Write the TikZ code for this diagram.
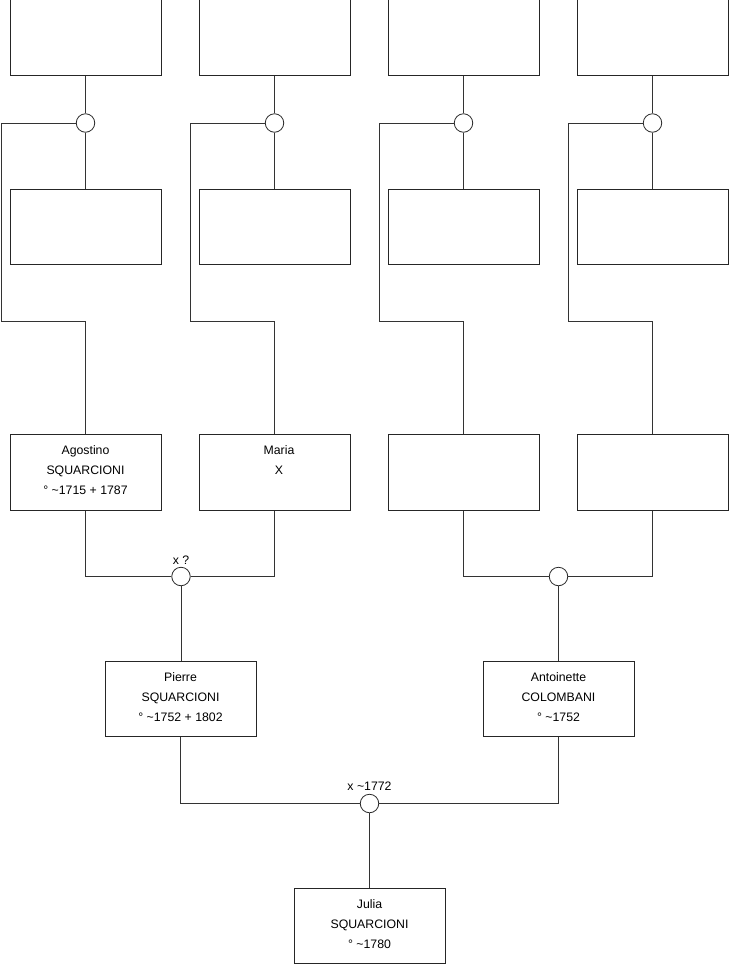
\documentclass[tikz,border=0pt]{standalone}
\usepackage{fontspec}
\setmainfont{Liberation Sans}
\begin{document}
\begin{tikzpicture}[x=1pt,y=-1pt,
  pbox/.style={draw=black!85, line width=0.8pt, minimum width=151pt, minimum height=75.5pt, inner sep=0pt, fill=white},
  ptext/.style={align=center, font=\fontsize{12.3}{20}\selectfont, anchor=north, inner sep=0pt},
  mcirc/.style={draw=black!85, line width=0.8pt, circle, minimum size=18.5pt, inner sep=0pt, fill=white},
  link/.style={draw=black!80, line width=0.8pt},
  lbl/.style={font=\fontsize{12.3}{14}\selectfont, inner sep=0pt, anchor=south}]
\useasboundingbox (0,0) rectangle (740,975);
% top row
\node[pbox] (t1) at (85.5,37.5) {};
\node[pbox] (t2) at (274.5,37.5) {};
\node[pbox] (t3) at (463.5,37.5) {};
\node[pbox] (t4) at (652.5,37.5) {};
% circles row 1
\node[mcirc] (c1) at (85.5,123) {};
\node[mcirc] (c2) at (274.5,123) {};
\node[mcirc] (c3) at (463.5,123) {};
\node[mcirc] (c4) at (652.5,123) {};
% second row
\node[pbox] (m1) at (85.5,227) {};
\node[pbox] (m2) at (274.5,227) {};
\node[pbox] (m3) at (463.5,227) {};
\node[pbox] (m4) at (652.5,227) {};
% fourth row
\node[pbox] (a1) at (85.5,472.5) {};
\node[pbox] (a2) at (274.5,472.5) {};
\node[pbox] (a3) at (463.5,472.5) {};
\node[pbox] (a4) at (652.5,472.5) {};
\node[ptext] (a1t) at (85.5,445.5) {Agostino\\SQUARCIONI\\° \textasciitilde1715 + 1787};
\node[ptext] (a2t) at (279,445.5) {Maria\\X};
% circles row 2
\node[mcirc] (cm1) at (181,576.5) {};
\node[mcirc] (cm2) at (558.5,576.5) {};
\node[lbl] (lx1) at (181,565) {x ?};
% parents
\node[pbox] (p) at (180.5,699) {};
\node[pbox] (an) at (558.5,699) {};
\node[ptext] (pt) at (180.5,672.5) {Pierre\\SQUARCIONI\\° \textasciitilde1752 + 1802};
\node[ptext] (ant) at (558.5,672.5) {Antoinette\\COLOMBANI\\° \textasciitilde1752};
% marriage circle
\node[mcirc] (cj) at (369.5,803.5) {};
\node[lbl] (lx2) at (369.5,791) {x \textasciitilde1772};
% Julia
\node[pbox] (j) at (369.5,926) {};
\node[ptext] (jt) at (369.5,899.5) {Julia\\SQUARCIONI\\° \textasciitilde1780};
% corner coordinates
\coordinate (k1) at (1,321);
\coordinate (k2) at (190,321);
\coordinate (k3) at (379,321);
\coordinate (k4) at (568,321);
% connectors top groups
\foreach \i in {1,2,3,4}{
  \draw[link] (t\i.south) -- (c\i.north);
  \draw[link] (c\i.south) -- (m\i.north);
  \draw[link] (c\i.west) -| (k\i) -| (a\i.north);
}
\draw[link] (a1.south) |- (cm1.west);
\draw[link] (a2.south) |- (cm1.east);
\draw[link] (a3.south) |- (cm2.west);
\draw[link] (a4.south) |- (cm2.east);
\draw[link] (cm1.south) -- (cm1 |- p.north);
\draw[link] (cm2.south) -- (an.north);
\draw[link] (p.south) |- (cj.west);
\draw[link] (an.south) |- (cj.east);
\draw[link] (cj.south) -- (j.north);
\end{tikzpicture}
\end{document}
